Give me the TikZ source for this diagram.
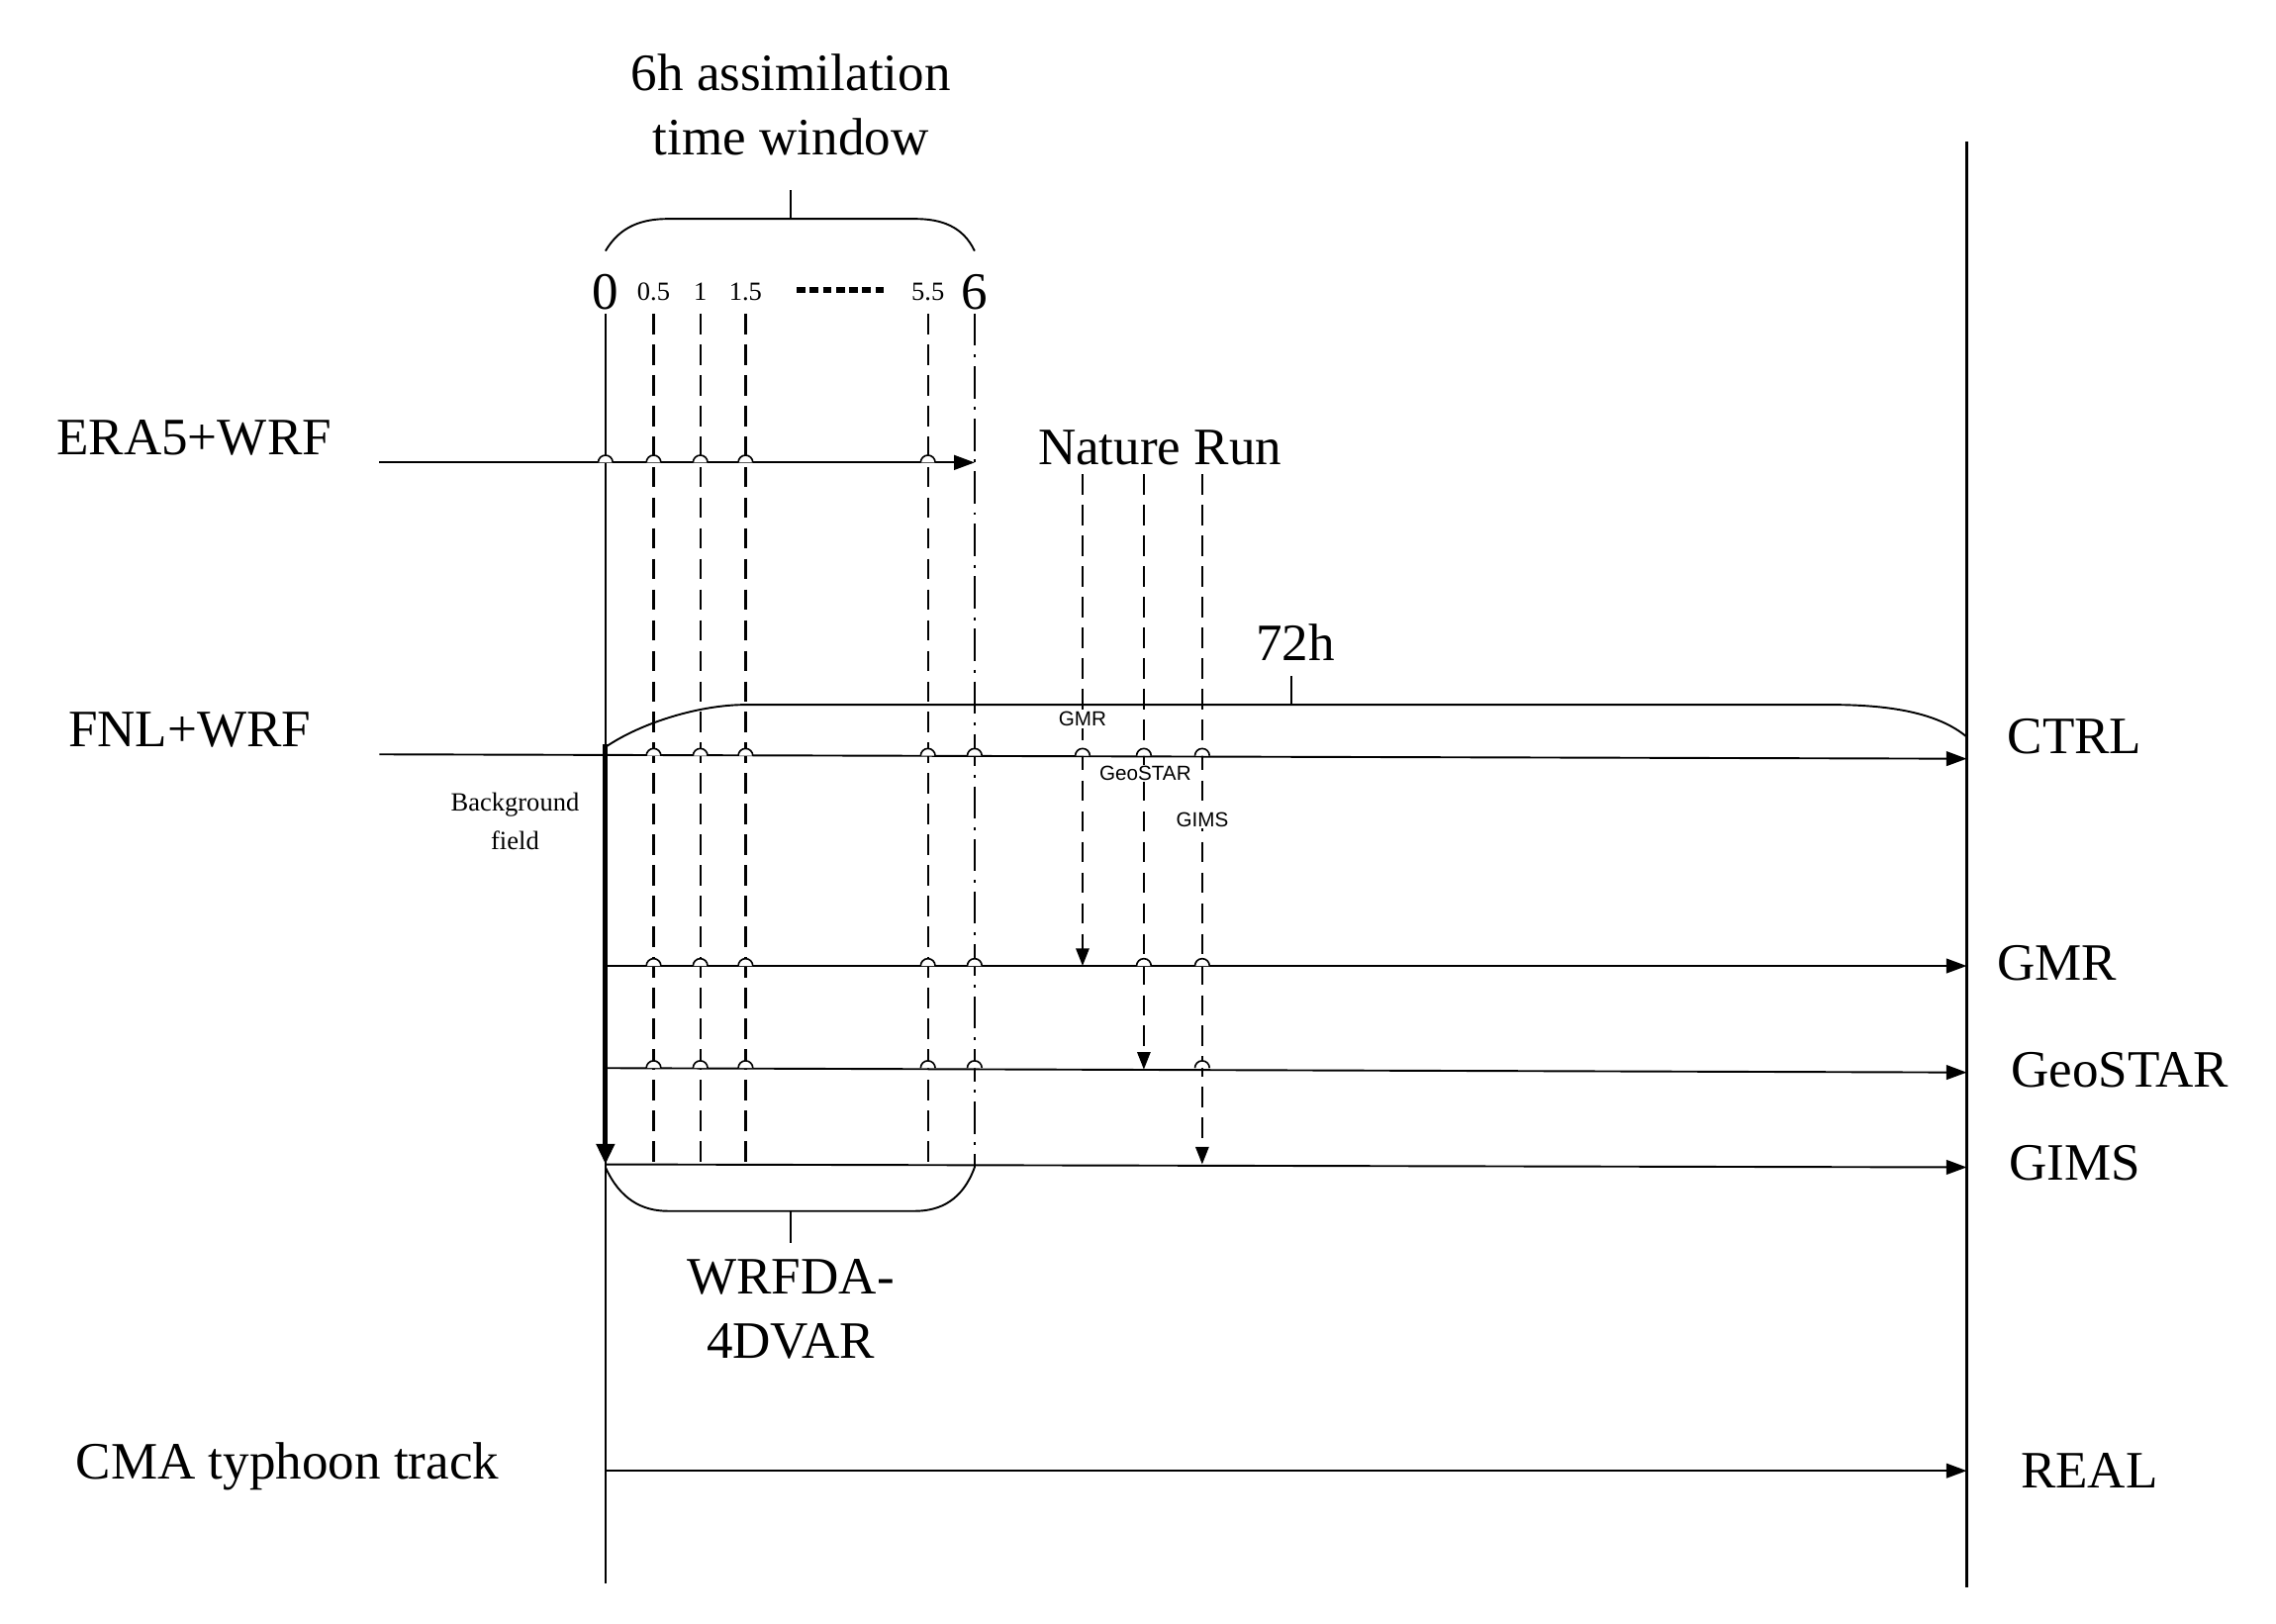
\documentclass[tikz,border=0pt]{standalone}
\usepackage{fontspec}
\setmainfont{Liberation Serif}
\newfontfamily\sansf{Liberation Sans}
\usetikzlibrary{arrows.meta}
\begin{document}
\begin{tikzpicture}[x=1pt,y=-1pt,line width=1.3pt,
  big/.style={font=\fontsize{36}{38}\selectfont,inner sep=0pt},
  tick/.style={font=\fontsize{18}{19}\selectfont,inner sep=0pt},
  obs/.style={font=\sansf\fontsize{14}{15}\selectfont,inner sep=1pt,fill=white},
  arr/.style={-{Triangle[length=14pt,width=10pt]}},
  dsh/.style={line width=1.5pt,dash pattern=on 14pt off 7pt},
  hop/.style={line width=1.1pt}]
\useasboundingbox (0,0) rectangle (1560,1113);
% axes
\coordinate (a0t) at (415,215); \coordinate (a0b) at (415,1085);
\draw (a0t) -- (a0b);
\coordinate (rt) at (1348,97); \coordinate (rb) at (1348,1088);
\draw[line width=1.5pt] (rt) -- (rb);
% top text and brace
\node[big,align=center] (tw) at (542,72) {6h assimilation\\[6pt]time window};
\draw (415,172) .. controls (425,155) and (440,150) .. (458,150) -- (627,150) .. controls (645,150) and (660,155) .. (668,172);
\coordinate (bt1) at (542,150); \coordinate (bt2) at (542,130);
\draw (bt1) -- (bt2);
\node[big] (l0) at (415,200) {0};
\node[tick] (l05) at (448,200) {0.5};
\node[tick] (l1) at (480,200) {1};
\node[tick] (l15) at (511,200) {1.5};
\node[tick] (l55) at (636,200) {5.5};
\node[big] (l6) at (668,200) {6};
\draw[line width=4pt,dash pattern=on 6pt off 3pt] (546,199) -- (606,199);
% dashed window lines
\foreach \x in {448,480,511,636}{\draw[dsh] (\x,215) -- (\x,798);}
\draw[line width=1.5pt,dash pattern=on 22pt off 6pt on 2pt off 6pt] (668,215) -- (668,800);
% ERA5
\node[big,anchor=center] (era) at (133,300) {ERA5+WRF};
\coordinate (e0) at (260,317); \coordinate (e1) at (668,317);
\draw[arr] (e0) -- (e1);
\node[big] (nr) at (795,307) {Nature Run};
% FNL
\node[big] (fnl) at (130,500) {FNL+WRF};
\coordinate (f0) at (260,517); \coordinate (f1) at (1348,520);
\draw[arr] (f0) -- (f1);
\node[big] (ctrl) at (1422,505) {CTRL};
% 72h brace
\draw (415,512) .. controls (440,495) and (480,483) .. (511,483) -- (1255,483) .. controls (1300,483) and (1330,490) .. (1348,505);
\coordinate (t1) at (885,483); \coordinate (t2) at (885,463);
\draw (t1) -- (t2);
\node[big] (h72) at (888,440) {72h};
% background arrow
\coordinate (bg0) at (415,510); \coordinate (bg1) at (415,798);
\draw[line width=3.5pt,-{Triangle[length=14pt,width=12pt]}] (bg0) -- (bg1);
\node[font=\fontsize{18}{26}\selectfont,align=center,inner sep=0pt] (bgf) at (353,563) {Background\\field};
% experiment lines
\coordinate (g0) at (415,662); \coordinate (g1) at (1348,662);
\draw[arr] (g0) -- (g1);
\node[big] (gmr) at (1410,660) {GMR};
\coordinate (s0) at (415,732); \coordinate (s1) at (1348,735);
\draw[arr] (s0) -- (s1);
\node[big] (geo) at (1453,733) {GeoSTAR};
\coordinate (i0) at (415,798); \coordinate (i1) at (1348,800);
\draw[arr] (i0) -- (i1);
\node[big] (gims) at (1422,797) {GIMS};
% obs arrows
\coordinate (o1) at (742,325); \coordinate (o1e) at (742,662);
\coordinate (o2) at (784,325); \coordinate (o2e) at (784,733);
\coordinate (o3) at (824,325); \coordinate (o3e) at (824,798);
\draw[dsh,-{Triangle[length=12pt,width=9pt]}] (o1) -- (o1e);
\draw[dsh,-{Triangle[length=12pt,width=9pt]}] (o2) -- (o2e);
\draw[dsh,-{Triangle[length=12pt,width=9pt]}] (o3) -- (o3e);
\node[obs] (og) at (742,493) {GMR};
\node[obs] (os) at (785,530) {GeoSTAR};
\node[obs] (oi) at (824,562) {GIMS};
% hops
\foreach \x in {415,448,480,511,636}{\draw[hop,fill=white] (\x-5,317) arc(180:360:5);}
\foreach \x in {448,480,511,636,668,742,784,824}{\draw[hop,fill=white] (\x-5,518) arc(180:360:5);}
\foreach \x in {448,480,511,636,668,784,824}{\draw[hop,fill=white] (\x-5,662) arc(180:360:5);}
\foreach \x in {448,480,511,636,668,824}{\draw[hop,fill=white] (\x-5,732) arc(180:360:5);}
% bottom brace
\draw (415,800) .. controls (425,822) and (440,830) .. (458,830) -- (627,830) .. controls (645,830) and (660,822) .. (668,800);
\coordinate (bb1) at (542,830); \coordinate (bb2) at (542,852);
\draw (bb1) -- (bb2);
\node[big,align=center] (wrf) at (542,897) {WRFDA-\\[6pt]4DVAR};
% CMA
\node[big] (cma) at (197,1005) {CMA typhoon track};
\coordinate (c0) at (415,1008); \coordinate (c1) at (1348,1008);
\draw[arr] (c0) -- (c1);
\node[big] (real) at (1432,1008) {REAL};
\end{tikzpicture}
\end{document}
